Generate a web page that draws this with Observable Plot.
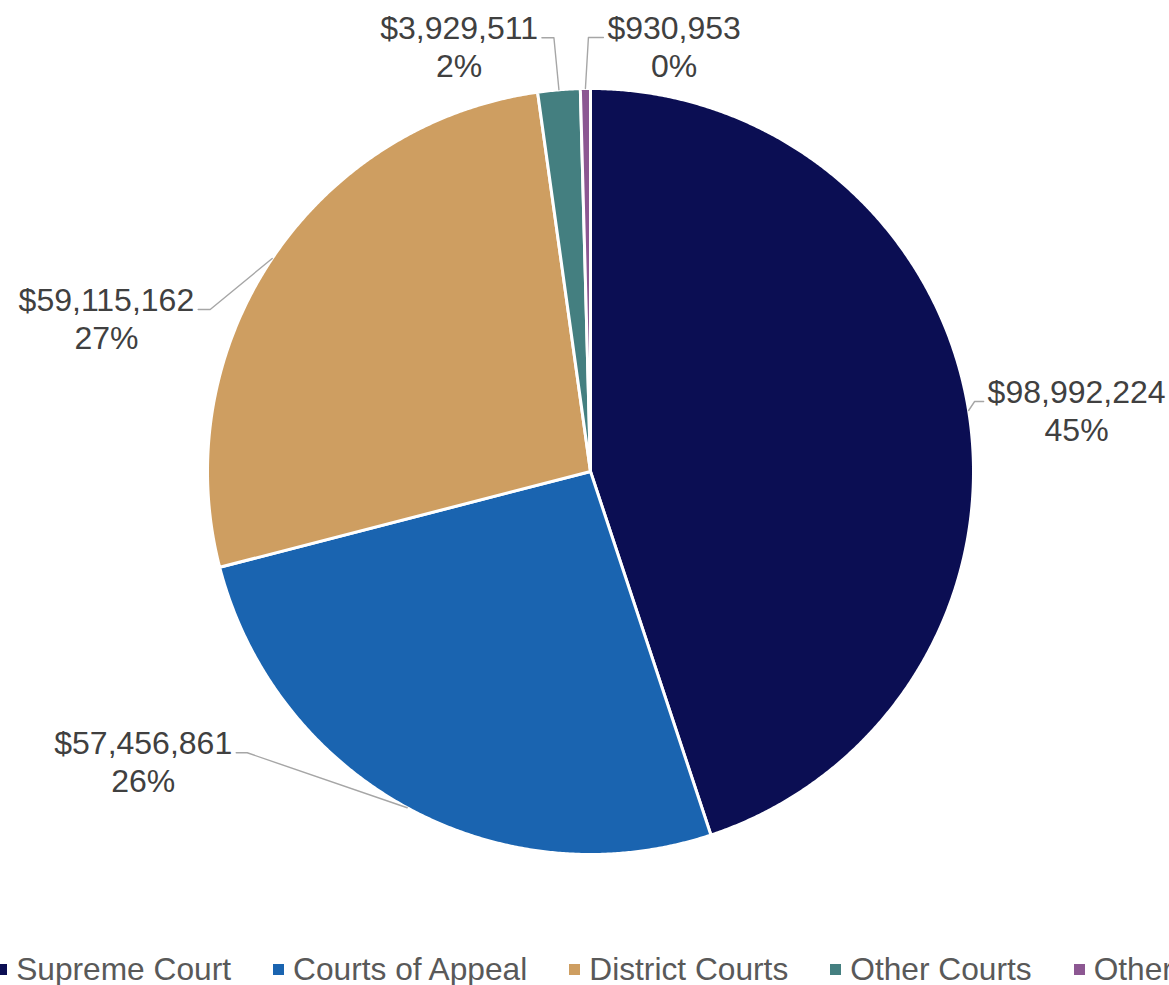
<!DOCTYPE html>
<html>
<head>
<meta charset="utf-8">
<script src="https://cdn.jsdelivr.net/npm/d3@7"></script>
<script src="https://cdn.jsdelivr.net/npm/@observablehq/plot@0.6"></script>
<style>
  html, body { margin: 0; padding: 0; background: #fff; overflow: hidden; width: 1169px; height: 985px; }
  #chart svg { display: block; }
  #legend {
    height: 47px; display: flex; justify-content: center; align-items: center;
    white-space: nowrap; font-family: "Liberation Sans", Arial, sans-serif;
    font-size: 31.7px; color: #595959; gap: 42px; flex: none;
  }
  #wrap { width: 1169px; overflow: hidden; display: flex; justify-content: center; margin-top: 8px; }
  .item { display: flex; align-items: center; flex: none; }
  .sw { width: 11px; height: 11px; margin-right: 9px; flex: none; }
</style>
</head>
<body>
<div id="chart"></div>
<div id="wrap"><div id="legend"></div></div>
<script>
// ---- data ----
const categories = ["Supreme Court", "Courts of Appeal", "District Courts", "Other Courts", "Other"];
const amounts = [98992224, 57456861, 59115162, 3929511, 930953];
const sliceColors = ["#0B0E53", "#1A64B0", "#CE9E61", "#447F80", "#8C5792"];

// ---- layout (pixels) ----
const W = 1169, H = 938, CX = 590, CY = 471, R = 383;
const leaderElbow = [[6, -9], [-160, -55], [-62, 51], [-5, -52], [3, -51]];
const leaderTail = [9, -11, -12, -12, 15];
const labelFont = 32;

const total = d3.sum(amounts);
const pie = d3.pie().sort(null).value(d => d)(amounts);

// slice polygons in unit-radius coordinates
const slicePts = [];
pie.forEach((p, i) => {
  const n = Math.max(2, Math.ceil((p.endAngle - p.startAngle) / 0.005));
  slicePts.push({name: categories[i], x: 0, y: 0});
  for (let k = 0; k <= n; k++) {
    const a = p.startAngle + (p.endAngle - p.startAngle) * k / n;
    slicePts.push({name: categories[i], x: Math.sin(a), y: Math.cos(a)});
  }
});

// text width measurement
const ctx = document.createElement("canvas").getContext("2d");
ctx.font = `${labelFont}px "Liberation Sans"`;

const fmt = v => "$" + d3.format(",")(v);
const leaders = [];
const labels = [];
pie.forEach((p, i) => {
  const mid = (p.startAngle + p.endAngle) / 2;
  const ax = Math.sin(mid), ay = Math.cos(mid);
  const ex = ax + leaderElbow[i][0] / R, ey = ay - leaderElbow[i][1] / R;
  const tx = ex + leaderTail[i] / R;
  leaders.push({id: i, x: ax, y: ay}, {id: i, x: ex, y: ey}, {id: i, x: tx, y: ey});
  const line1 = fmt(amounts[i]);
  const line2 = Math.round(amounts[i] / total * 100) + "%";
  const w = Math.max(ctx.measureText(line1).width, ctx.measureText(line2).width);
  const side = Math.sign(leaderTail[i]);
  labels.push({
    x: tx + side * (w / 2 + 4) / R,
    y: ey - 8 / R,
    text: line1 + "\n" + line2
  });
});

const chart = Plot.plot({
  width: W, height: H, margin: 0,
  x: {domain: [-CX / R, (W - CX) / R], axis: null},
  y: {domain: [-(H - CY) / R, CY / R], axis: null},
  color: {domain: categories, range: sliceColors},
  style: {fontFamily: '"Liberation Sans", Arial, sans-serif', background: "#fff"},
  marks: [
    Plot.line(slicePts, {x: "x", y: "y", z: "name", fill: "name", stroke: "white", strokeWidth: 3, curve: "linear-closed", strokeLinejoin: "round"}),
    Plot.line(leaders, {x: "x", y: "y", z: "id", stroke: "#A6A6A6", strokeWidth: 1.4}),
    Plot.text(labels, {x: "x", y: "y", text: "text", textAnchor: "middle", lineAnchor: "middle", lineHeight: 1.19, fontSize: labelFont, fill: "#404040"})
  ]
});
document.getElementById("chart").appendChild(chart);

const legend = document.getElementById("legend");
categories.forEach((c, i) => {
  const it = document.createElement("div");
  it.className = "item";
  it.innerHTML = `<span class="sw" style="background:${sliceColors[i]}"></span><span>${c}</span>`;
  legend.appendChild(it);
});
</script>
</body>
</html>
